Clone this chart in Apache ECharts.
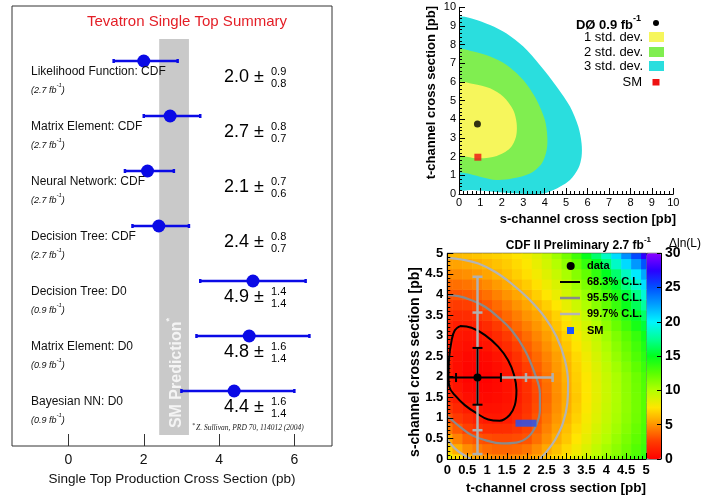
<!DOCTYPE html>
<html>
<head>
<meta charset="utf-8">
<script src="https://cdn.jsdelivr.net/npm/echarts@6/dist/echarts.min.js"></script>
<style>
html,body{margin:0;padding:0;background:#fff}
#chart{width:701px;height:495px}
</style>
</head>
<body>
<div id="chart"></div>
<script>
// left panel: Tevatron single top summary
var methods = ['Likelihood Function: CDF','Matrix Element: CDF','Neural Network: CDF','Decision Tree: CDF','Decision Tree: D0','Matrix Element: D0','Bayesian NN: D0'];
var lumis = ['2.7','2.7','2.7','2.7','0.9','0.9','0.9'];
var xsec = [2.0, 2.7, 2.1, 2.4, 4.9, 4.8, 4.4];
var errUp = [0.9, 0.8, 0.7, 0.8, 1.4, 1.6, 1.6];
var errDown = [0.8, 0.7, 0.6, 0.7, 1.4, 1.4, 1.4];
var smBand = [2.41, 3.2];
var summaryTicks = [0, 2, 4, 6];

// top right: D0 0.9 fb-1 (s-channel, t-channel) regions
var d0Cyan = [[0,9.41],[0.67,9.38],[1.45,9.05],[2.22,8.6],[3.0,7.9],[3.78,6.9],[4.56,5.75],[5.18,4.68],[5.57,3.6],[5.72,2.71],[5.72,2.0],[5.57,1.38],[5.18,0.75],[4.71,0.39],[4.09,0.07],[3.47,0],[2.53,0.04],[1.6,0.125],[0.67,0.21],[0,0.3]];
var d0Green = [[0,7.68],[0.67,7.63],[1.45,7.36],[2.22,6.91],[3.0,6.1],[3.62,5.04],[4.01,3.96],[4.12,3.07],[4.09,2.36],[3.86,1.64],[3.31,1.1],[2.53,0.84],[1.76,0.75],[0.98,0.93],[0.36,1.11],[0,1.25]];
var d0Yellow = [[0,5.93],[0.67,5.89],[1.45,5.66],[2.07,5.21],[2.53,4.5],[2.69,3.79],[2.66,3.07],[2.38,2.45],[1.76,2.04],[0.98,1.91],[0.36,2.0],[0,2.14]];
var d0Fit = [0.86, 3.75];
var d0SM = [0.88, 1.97];

// bottom right: CDF 2.7 fb-1, delta ln(L) over (t-channel, s-channel)
var cdfT = [0,0.25,0.5,0.75,1,1.25,1.5,1.75,2,2.25,2.5,2.75,3,3.25,3.5,3.75,4,4.25,4.5,4.75,5];
var cdfS = [0,0.25,0.5,0.75,1,1.25,1.5,1.75,2,2.25,2.5,2.75,3,3.25,3.5,3.75,4,4.25,4.5,4.75,5];
var cdfDlnL = [
  [8.3,7.2,6.2,5.5,5.0,4.7,4.6,4.8,5.1,5.6,6.3,6.9,7.6,8.4,9.2,10.0,10.8,11.5,12.3,13.0,13.8],
  [6.9,5.8,4.8,4.3,3.9,3.7,3.7,3.8,4.1,4.8,5.6,6.3,7.1,7.9,8.7,9.6,10.4,11.1,11.9,12.7,13.4],
  [5.7,4.5,3.6,3.2,3.0,2.9,2.9,3.0,3.2,4.0,4.9,5.8,6.6,7.5,8.3,9.2,10.0,10.8,11.6,12.4,13.1],
  [4.3,3.4,2.65,2.2,1.95,1.9,1.95,2.3,2.75,3.55,4.5,5.4,6.3,7.2,8.0,8.9,9.7,10.5,11.3,12.1,12.9],
  [3.1,2.4,1.85,1.35,1.05,1.0,1.15,1.7,2.4,3.25,4.2,5.1,6.0,6.9,7.8,8.65,9.5,10.3,11.1,11.9,12.7],
  [2.35,1.7,1.2,0.85,0.7,0.72,0.92,1.42,2.15,3.0,3.95,4.9,5.8,6.7,7.6,8.5,9.4,10.2,11.0,11.8,12.6],
  [1.7,1.1,0.6,0.42,0.4,0.5,0.75,1.2,2.0,2.85,3.8,4.8,5.7,6.6,7.5,8.4,9.3,10.15,11.0,11.8,12.6],
  [1.4,0.8,0.35,0.18,0.2,0.38,0.74,1.22,2.07,2.98,3.92,4.88,5.78,6.7,7.55,8.45,9.35,10.2,11.05,11.9,12.75],
  [1.2,0.55,0.15,0.02,0.1,0.35,0.8,1.35,2.27,3.2,4.1,5.0,5.9,6.8,7.6,8.5,9.4,10.25,11.1,12.0,12.9],
  [1.18,0.58,0.22,0.12,0.24,0.54,0.98,1.68,2.62,3.47,4.3,5.15,6.02,6.92,7.8,8.7,9.62,10.52,11.45,12.4,13.35],
  [1.2,0.65,0.35,0.3,0.45,0.8,1.25,2.1,3.05,3.8,4.55,5.35,6.2,7.1,8.0,8.95,9.9,10.85,11.8,12.8,13.8],
  [1.35,0.82,0.6,0.58,0.8,1.32,1.88,2.65,3.48,4.2,4.92,5.68,6.52,7.4,8.3,9.22,10.2,11.18,12.15,13.15,14.2],
  [1.5,1.0,0.85,0.85,1.15,1.83,2.5,3.2,3.9,4.6,5.3,6.0,6.85,7.7,8.6,9.5,10.5,11.5,12.5,13.5,14.6],
  [1.6,1.25,1.2,1.35,1.8,2.5,3.15,3.8,4.45,5.05,5.7,6.45,7.28,8.15,9.05,10.0,11.05,12.1,13.2,14.35,15.55],
  [2.05,1.85,1.9,2.15,2.6,3.2,3.8,4.4,5.0,5.5,6.1,6.9,7.7,8.6,9.5,10.5,11.6,12.7,13.9,15.2,16.5],
  [2.6,2.52,2.62,2.88,3.3,3.85,4.4,4.98,5.55,6.15,6.8,7.55,8.35,9.25,10.15,11.2,12.3,13.45,14.75,16.2,17.75],
  [3.15,3.2,3.35,3.6,4.0,4.5,5.0,5.55,6.1,6.8,7.5,8.2,9.0,9.9,10.8,11.9,13.0,14.2,15.6,17.2,19.0],
  [3.92,3.98,4.12,4.38,4.75,5.2,5.65,6.18,6.7,7.35,8.05,8.8,9.65,10.6,11.55,12.75,14.0,15.4,17.05,18.75,20.65],
  [4.7,4.75,4.9,5.15,5.5,5.9,6.3,6.8,7.3,7.9,8.6,9.4,10.3,11.3,12.3,13.6,15.0,16.6,18.5,20.3,22.3],
  [5.4,5.45,5.6,5.82,6.1,6.4,6.7,7.12,7.6,8.25,9.05,10.0,11.05,12.25,13.55,15.1,16.8,18.65,20.75,22.75,24.9],
  [6.1,6.15,6.3,6.5,6.7,6.9,7.1,7.45,7.9,8.6,9.5,10.6,11.8,13.2,14.8,16.6,18.6,20.7,23.0,25.2,27.5]
];
var cl683 = [[0.32,3.23],[0.61,3.19],[0.95,3.01],[1.28,2.73],[1.53,2.40],[1.68,2.04],[1.74,1.67],[1.70,1.31],[1.57,1.07],[1.32,0.93],[1.03,0.96],[0.74,1.11],[0.44,1.31],[0.19,1.55],[0.05,1.76],[0.03,2.0],[0.04,2.40],[0.11,2.89],[0.19,3.13],[0.32,3.23]];
var cl955 = [[0,3.98],[0.28,3.96],[0.61,3.86],[0.95,3.70],[1.28,3.45],[1.62,3.13],[1.95,2.65],[2.20,2.08],[2.33,1.59],[2.33,1.19],[2.24,0.83],[2.04,0.54],[1.74,0.40],[1.37,0.38],[0.95,0.46],[0.61,0.58],[0.32,0.78],[0.11,0.95],[0,1.03]];
var cl997 = [[0,4.89],[0.36,4.85],[0.78,4.75],[1.20,4.55],[1.62,4.26],[2.04,3.90],[2.45,3.45],[2.75,2.97],[2.96,2.40],[3.04,1.84],[3.02,1.35],[2.91,0.87],[2.71,0.46],[2.50,0.18],[2.37,0.04],[2.33,0]];
var cl997Low = [[0,0.47],[0.15,0.3],[0.3,0.17],[0.5,0.05],[0.6,0]];
var cdfFit = [0.76, 1.98];
var cdfStatT = [0.22, 1.35];
var cdfStatS = [1.32, 2.70];
var cdfWideT = [1.35, 2.65];
var cdfWideS = [0.12, 4.43];
var cdfWideCapsT = [1.98, 2.65];
var cdfWideCapsS = [0.12, 0.70, 3.56, 4.43];
var cdfSM = [1.98, 0.87];

var FONT = '"Liberation Sans", Arial, Helvetica, sans-serif';
var BLUE = '#0a0ae6';
var palette = ['#ff0000','#ff3a00','#ff9400','#ffe600','#b4ff00','#5aff00','#00ff1e','#00ff96','#00f5ff','#00a0ff','#0050ff','#2a00ff','#8c00ff'];
var d0Regions = [d0Cyan, d0Green, d0Yellow];
var d0Fills = ['#2adede', '#80ee50', '#f6f65c'];

var heatData = [];
cdfDlnL.forEach(function(row, j){
  row.forEach(function(v, i){
    heatData.push([cdfT[i], cdfS[j], v]);
  });
});

function txt(x, y, text, size, opts){
  opts = opts || {};
  return {
    type:'text', x:x, y:y, rotation:opts.rotation || 0, z:opts.z || 50,
    style:{
      text:text, fontSize:size, fontFamily:opts.family || FONT,
      fontWeight:opts.weight || 'normal', fontStyle:opts.style || 'normal',
      fill:opts.color || '#000', align:opts.align || 'left',
      verticalAlign:opts.valign || 'middle', rich:opts.rich
    }
  };
}

function renderHeatCell(params, api){
  var t = api.value(0), s = api.value(1);
  var a = api.coord([Math.max(0, t - 0.125), Math.min(5, s + 0.125)]);
  var b = api.coord([Math.min(5, t + 0.125), Math.max(0, s - 0.125)]);
  return {
    type:'rect',
    shape:{x:a[0], y:a[1], width:b[0] - a[0] + 0.6, height:b[1] - a[1] + 0.6},
    style:{fill:api.visual('color')}
  };
}

function renderBand(params, api){
  var a = api.coord([smBand[0], 7.4]);
  var b = api.coord([smBand[1], 0.2]);
  var cx = (a[0] + b[0]) / 2;
  return {
    type:'group',
    children:[
      {type:'rect', shape:{x:a[0], y:a[1], width:b[0] - a[0], height:b[1] - a[1]}, style:{fill:'#c9c9c9'}},
      txt(cx + 1, b[1] - 62, '{m|SM Prediction}{s|*}', 16, {
        rotation:Math.PI / 2, align:'center',
        rich:{
          m:{fontSize:16, fontWeight:'bold', fontFamily:FONT, fill:'#f4f4f4', lineHeight:20, verticalAlign:'bottom'},
          s:{fontSize:9, fontWeight:'bold', fontFamily:FONT, fill:'#f4f4f4', verticalAlign:'top'}
        }
      })
    ]
  };
}

function renderMeasurement(params, api){
  var i = api.value(2);
  var row = api.value(1);
  var c = api.coord([xsec[i], row]);
  var lo = api.coord([xsec[i] - errDown[i], row]);
  var hi = api.coord([xsec[i] + errUp[i], row]);
  var left = api.coord([-1.5, row])[0] + 19;
  var valX = api.coord([4.13, row])[0];
  var lineStyle = {stroke:BLUE, lineWidth:2.5};
  return {
    type:'group',
    children:[
      {type:'line', shape:{x1:lo[0], y1:c[1], x2:hi[0], y2:c[1]}, style:lineStyle},
      {type:'line', shape:{x1:lo[0], y1:c[1] - 2, x2:lo[0], y2:c[1] + 2}, style:lineStyle},
      {type:'line', shape:{x1:hi[0], y1:c[1] - 2, x2:hi[0], y2:c[1] + 2}, style:lineStyle},
      {type:'circle', shape:{cx:c[0], cy:c[1], r:6.5}, style:{fill:BLUE}},
      txt(left, c[1] + 10.5, methods[i], 12, {color:'#111'}),
      txt(left, c[1] + 27.5, '{a|(' + lumis[i] + ' fb}{s|-1}{a|)}', 9, {
        rich:{
          a:{fontSize:9, fontStyle:'italic', fontFamily:FONT, fill:'#111', lineHeight:12, verticalAlign:'bottom'},
          s:{fontSize:6, fontStyle:'italic', fontFamily:FONT, fill:'#111', verticalAlign:'top'}
        }
      }),
      txt(valX, c[1] + 16.5, xsec[i].toFixed(1) + ' \u00b1', 18, {color:'#000'}),
      txt(valX + 47, c[1] + 11, errUp[i].toFixed(1), 11, {color:'#000'}),
      txt(valX + 47, c[1] + 22.5, errDown[i].toFixed(1), 11, {color:'#000'})
    ]
  };
}

function renderRegion(params, api){
  var k = api.value(0);
  var pts = d0Regions[k].map(function(p){ return api.coord(p); });
  return {type:'polygon', shape:{points:pts, smooth:0.3}, style:{fill:d0Fills[k]}};
}

function renderCross(params, api){
  var c = api.coord(cdfFit);
  var kids = [];
  var gray = {stroke:'#b0b0b0', lineWidth:2.5};
  var black = {stroke:'#000', lineWidth:2};
  function hline(t0, t1, st){
    var a = api.coord([t0, cdfFit[1]]), b = api.coord([t1, cdfFit[1]]);
    kids.push({type:'line', shape:{x1:a[0], y1:a[1], x2:b[0], y2:b[1]}, style:st});
  }
  function vline(s0, s1, st){
    var a = api.coord([cdfFit[0], s0]), b = api.coord([cdfFit[0], s1]);
    kids.push({type:'line', shape:{x1:a[0], y1:a[1], x2:b[0], y2:b[1]}, style:st});
  }
  function tcap(t, st){
    var p = api.coord([t, cdfFit[1]]);
    kids.push({type:'line', shape:{x1:p[0], y1:p[1] - 4.5, x2:p[0], y2:p[1] + 4.5}, style:st});
  }
  function scap(s, st){
    var p = api.coord([cdfFit[0], s]);
    kids.push({type:'line', shape:{x1:p[0] - 5, y1:p[1], x2:p[0] + 5, y2:p[1]}, style:st});
  }
  vline(cdfWideS[0], cdfWideS[1], gray);
  hline(cdfWideT[0], cdfWideT[1], gray);
  cdfWideCapsT.forEach(function(t){ tcap(t, gray); });
  cdfWideCapsS.forEach(function(s){ scap(s, gray); });
  hline(0, cdfStatT[1], black);
  vline(cdfStatS[0], cdfStatS[1], black);
  tcap(cdfStatT[0], black);
  tcap(cdfStatT[1], black);
  scap(cdfStatS[0], black);
  scap(cdfStatS[1], black);
  kids.push({type:'circle', shape:{cx:c[0], cy:c[1], r:4}, style:{fill:'#000'}});
  return {type:'group', children:kids};
}

function boldAxis(size){
  return {fontSize:size, fontWeight:'bold', fontFamily:FONT, color:'#000'};
}

var supRich = function(size, sup, weight){
  return {
    b:{fontSize:size, fontWeight:weight, fontFamily:FONT, fill:'#000', lineHeight:size + 4, verticalAlign:'bottom'},
    s:{fontSize:sup, fontWeight:weight, fontFamily:FONT, fill:'#000', verticalAlign:'top'}
  };
};

var chart = echarts.init(document.getElementById('chart'));
chart.setOption({
  animation:false,
  backgroundColor:'#fff',
  grid:[
    {left:12, top:6, width:320, height:440, show:true, borderColor:'#333', borderWidth:1, backgroundColor:'transparent'},
    {left:459, top:7.3, width:214.3, height:186.7},
    {left:447.3, top:253.3, width:198.7, height:205.7, show:true, borderColor:'#222', borderWidth:1, backgroundColor:'transparent'},
    {left:646.5, top:253.3, width:14.5, height:205.7, show:true, borderColor:'#222', borderWidth:1, backgroundColor:'transparent'}
  ],
  xAxis:[
    {gridIndex:0, type:'value', min:-1.5, max:7.0, axisLine:{show:false}, splitLine:{show:false},
      axisTick:{show:true, inside:true, length:12, customValues:summaryTicks, lineStyle:{color:'#333'}},
      axisLabel:{customValues:summaryTicks, fontSize:14, fontFamily:FONT, color:'#111', margin:7},
      name:'Single Top Production Cross Section (pb)', nameLocation:'middle', nameGap:26,
      nameTextStyle:{fontSize:13.5, fontFamily:FONT, color:'#111'}},
    {gridIndex:1, type:'value', min:0, max:10, interval:1, splitLine:{show:false}, z:10,
      axisLine:{show:true, onZero:false, lineStyle:{color:'#000', width:1}},
      axisTick:{inside:true, length:6, lineStyle:{color:'#000'}},
      minorTick:{show:true, splitNumber:5, length:3, lineStyle:{color:'#000'}},
      axisLabel:{fontSize:11, fontFamily:FONT, color:'#000', margin:3}},
    {gridIndex:2, type:'value', min:0, max:5, interval:0.5, splitLine:{show:false}, z:10,
      axisLine:{show:true, onZero:false, lineStyle:{color:'#000', width:1}},
      axisTick:{inside:true, length:6, lineStyle:{color:'#000'}},
      minorTick:{show:true, splitNumber:5, length:3, lineStyle:{color:'#000'}},
      axisLabel:Object.assign(boldAxis(13), {margin:5})},
    {gridIndex:3, type:'value', min:0, max:1, show:false}
  ],
  yAxis:[
    {gridIndex:0, type:'value', min:0, max:8, show:false},
    {gridIndex:1, type:'value', min:0, max:10, interval:1, splitLine:{show:false}, z:10,
      axisLine:{show:true, onZero:false, lineStyle:{color:'#000', width:1}},
      axisTick:{inside:true, length:6, lineStyle:{color:'#000'}},
      minorTick:{show:true, splitNumber:5, length:3, lineStyle:{color:'#000'}},
      axisLabel:{fontSize:11, fontFamily:FONT, color:'#000', margin:3}},
    {gridIndex:2, type:'value', min:0, max:5, interval:0.5, splitLine:{show:false}, z:10,
      axisLine:{show:true, onZero:false, lineStyle:{color:'#000', width:1}},
      axisTick:{inside:true, length:6, lineStyle:{color:'#000'}},
      minorTick:{show:true, splitNumber:5, length:3, lineStyle:{color:'#000'}},
      axisLabel:Object.assign(boldAxis(13), {margin:4})},
    {gridIndex:3, type:'value', position:'right', min:0, max:30, interval:5, splitLine:{show:false}, z:10,
      axisLine:{show:true, onZero:false, lineStyle:{color:'#000', width:1}},
      axisTick:{inside:true, length:4, lineStyle:{color:'#000'}},
      axisLabel:Object.assign(boldAxis(14), {margin:4})}
  ],
  visualMap:{
    type:'continuous', seriesIndex:0, dimension:2, min:0, max:30,
    inRange:{color:palette}, orient:'vertical', left:646.5, top:253.3,
    itemWidth:14.5, itemHeight:205.7, padding:0, calculable:false, hoverLink:false
  },
  series:[
    {type:'custom', name:'dlnL', xAxisIndex:2, yAxisIndex:2, data:heatData, encode:{x:0, y:1},
      renderItem:renderHeatCell, z:1, silent:true},
    {type:'custom', name:'SM band', xAxisIndex:0, yAxisIndex:0, data:[[smBand[0], 4]],
      renderItem:renderBand, z:1},
    {type:'custom', name:'measurements', xAxisIndex:0, yAxisIndex:0,
      data:xsec.map(function(v, i){ return [v, 7 - i, i]; }), encode:{x:0, y:1},
      renderItem:renderMeasurement, z:3},
    {type:'custom', name:'D0 regions', xAxisIndex:1, yAxisIndex:1, data:[[0],[1],[2]],
      renderItem:renderRegion, clip:true, z:1},
    {type:'scatter', xAxisIndex:1, yAxisIndex:1, data:[d0Fit], symbol:'circle', symbolSize:7,
      itemStyle:{color:'#000'}, z:5},
    {type:'scatter', xAxisIndex:1, yAxisIndex:1, data:[d0SM], symbol:'rect', symbolSize:7,
      itemStyle:{color:'#ee1111'}, z:5},
    {type:'line', xAxisIndex:2, yAxisIndex:2, data:cl997, smooth:0.4, showSymbol:false, symbol:'none',
      lineStyle:{color:'#b4b4b4', width:2.2}, z:3},
    {type:'line', xAxisIndex:2, yAxisIndex:2, data:cl997Low, smooth:0.4, showSymbol:false, symbol:'none',
      lineStyle:{color:'#b4b4b4', width:2.2}, z:3},
    {type:'line', xAxisIndex:2, yAxisIndex:2, data:cl955, smooth:0.4, showSymbol:false, symbol:'none',
      lineStyle:{color:'#8a8a8a', width:2.2}, z:3},
    {type:'line', xAxisIndex:2, yAxisIndex:2, data:cl683, smooth:0.4, showSymbol:false, symbol:'none',
      lineStyle:{color:'#000', width:2}, z:3},
    {type:'custom', xAxisIndex:2, yAxisIndex:2, data:[cdfFit], renderItem:renderCross, z:4},
    {type:'scatter', xAxisIndex:2, yAxisIndex:2, data:[cdfSM], symbol:'rect', symbolSize:[21, 7],
      itemStyle:{color:'#1a55ff'}, z:5}
  ],
  graphic:[
    txt(187, 22, 'Tevatron Single Top Summary', 15, {align:'center', color:'#e41e26'}),
    txt(192, 425, '*', 6, {family:'"Liberation Serif", serif', style:'italic', color:'#222'}),
    txt(196, 428, 'Z. Sullivan, PRD 70, 114012 (2004)', 7.5, {family:'"Liberation Serif", serif', style:'italic', color:'#222'}),

    // D0 legend
    txt(641, 23, '{b|D\u00d8 0.9 fb}{s|-1}', 13, {align:'right', rich:supRich(13, 9, 'bold')}),
    {type:'circle', shape:{cx:656, cy:23, r:3}, style:{fill:'#000'}},
    txt(643, 37, '1 std. dev.', 13, {align:'right'}),
    {type:'rect', shape:{x:649, y:32, width:15, height:10}, style:{fill:d0Fills[2]}},
    txt(643, 52, '2 std. dev.', 13, {align:'right'}),
    {type:'rect', shape:{x:649, y:47, width:15, height:10}, style:{fill:d0Fills[1]}},
    txt(643, 66, '3 std. dev.', 13, {align:'right'}),
    {type:'rect', shape:{x:649, y:61, width:15, height:10}, style:{fill:d0Fills[0]}},
    txt(642, 82, 'SM', 13, {align:'right'}),
    {type:'rect', shape:{x:652.5, y:79, width:7, height:6.5}, style:{fill:'#ee1111'}},
    txt(676, 219, 's-channel cross section [pb]', 13, {align:'right', weight:'bold'}),
    txt(431, 6, 't-channel cross section [pb]', 13, {align:'right', weight:'bold', rotation:Math.PI / 2}),

    // CDF legend
    txt(651, 244, '{b|CDF II Preliminary 2.7 fb}{s|-1}', 12, {align:'right', rich:supRich(12, 8, 'bold')}),
    txt(669, 244, '\u0394ln(L)', 12, {}),
    {type:'circle', shape:{cx:570.7, cy:266, r:4}, style:{fill:'#000'}, z:50},
    txt(587, 266, 'data', 11, {weight:'bold'}),
    {type:'line', shape:{x1:560, y1:282, x2:580, y2:282}, style:{stroke:'#000', lineWidth:2}, z:50},
    txt(587, 282, '68.3% C.L.', 11, {weight:'bold'}),
    {type:'line', shape:{x1:560, y1:298, x2:580, y2:298}, style:{stroke:'#8a8a8a', lineWidth:2.5}, z:50},
    txt(587, 298, '95.5% C.L.', 11, {weight:'bold'}),
    {type:'line', shape:{x1:560, y1:314, x2:580, y2:314}, style:{stroke:'#b4b4b4', lineWidth:2.5}, z:50},
    txt(587, 314, '99.7% C.L.', 11, {weight:'bold'}),
    {type:'rect', shape:{x:567, y:327, width:7, height:7}, style:{fill:'#1a55ff'}, z:50},
    txt(587, 331, 'SM', 11, {weight:'bold'}),
    txt(646, 488, 't-channel cross section [pb]', 13.5, {align:'right', weight:'bold'}),
    txt(415, 362, 's-channel cross section [pb]', 14, {align:'center', weight:'bold', rotation:Math.PI / 2})
  ]
});
</script>
</body>
</html>
